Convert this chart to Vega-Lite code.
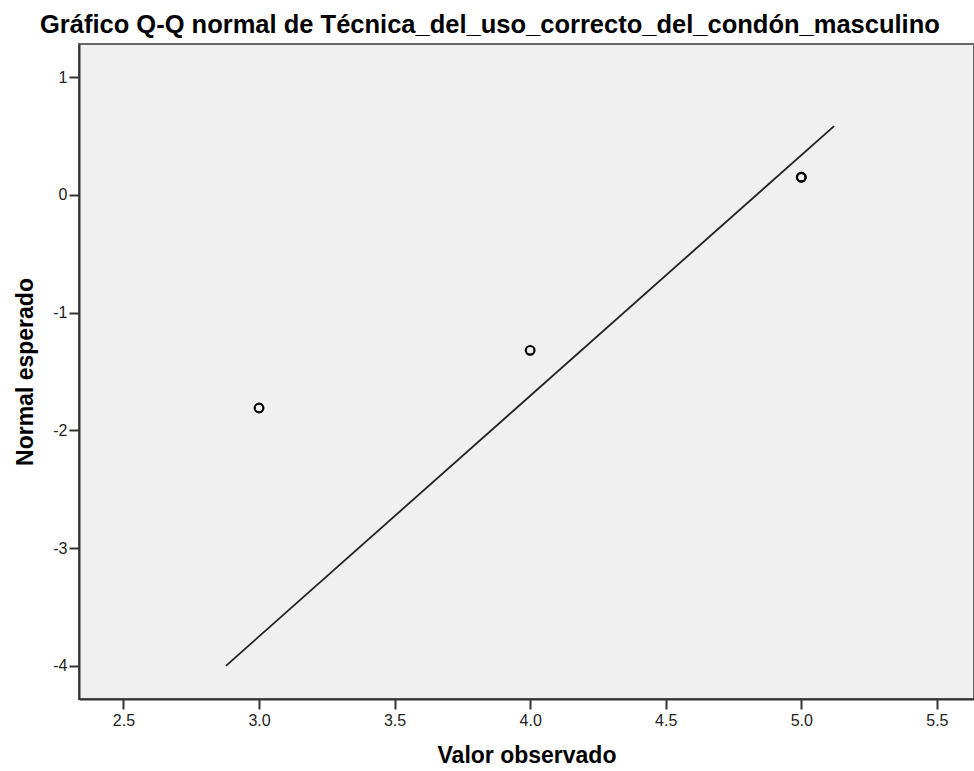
{
  "$schema": "https://vega.github.io/schema/vega-lite/v6.json",
  "autosize": "none",
  "width": 895,
  "height": 655,
  "padding": {"left": 79, "top": 44, "right": 0, "bottom": 72},
  "background": "white",
  "title": {
    "text": "Gráfico Q-Q normal de Técnica_del_uso_correcto_del_condón_masculino",
    "font": "Liberation Sans",
    "fontSize": 25.5,
    "fontWeight": "bold",
    "color": "#000000",
    "anchor": "start",
    "frame": "group",
    "dx": -39,
    "offset": 6
  },
  "config": {
    "view": {"fill": "#f0f0f0", "stroke": "#666666", "strokeWidth": 2},
    "axis": {
      "domainColor": "#333333",
      "domainWidth": 2,
      "tickColor": "#333333",
      "tickWidth": 2,
      "tickSize": 10,
      "grid": false,
      "labelFont": "Liberation Sans",
      "labelFontSize": 16,
      "labelColor": "#222222",
      "titleFont": "Liberation Sans",
      "titleFontSize": 23,
      "titleFontWeight": "bold",
      "titleColor": "#000000"
    }
  },
  "datasets": {
    "points": [
      {"observado": 3, "esperado": -1.81},
      {"observado": 4, "esperado": -1.32},
      {"observado": 5, "esperado": 0.15},
      {"observado": 5, "esperado": 0.15}
    ],
    "line": [
      {"observado": 2.878, "esperado": -4.0},
      {"observado": 5.121, "esperado": 0.585}
    ]
  },
  "layer": [
    {
      "data": {"name": "line"},
      "mark": {"type": "line", "color": "#222222", "strokeWidth": 1.8},
      "encoding": {
        "x": {"field": "observado", "type": "quantitative"},
        "y": {"field": "esperado", "type": "quantitative"}
      }
    },
    {
      "data": {"name": "points"},
      "mark": {"type": "point", "shape": "circle", "filled": false, "color": "#000000", "strokeWidth": 2.2, "size": 75, "opacity": 1},
      "encoding": {
        "x": {
          "field": "observado",
          "type": "quantitative",
          "scale": {"domain": [2.336, 5.637], "nice": false, "zero": false},
          "axis": {"values": [2.5, 3.0, 3.5, 4.0, 4.5, 5.0, 5.5], "labelExpr": "format(datum.value, '.1f')", "title": "Valor observado", "titlePadding": 16, "labelPadding": 3}
        },
        "y": {
          "field": "esperado",
          "type": "quantitative",
          "scale": {"domain": [-4.282, 1.282], "nice": false, "zero": false},
          "axis": {"values": [-4, -3, -2, -1, 0, 1], "labelExpr": "'' + datum.value", "title": "Normal esperado", "titlePadding": 15, "labelPadding": 2}
        }
      }
    }
  ]
}
